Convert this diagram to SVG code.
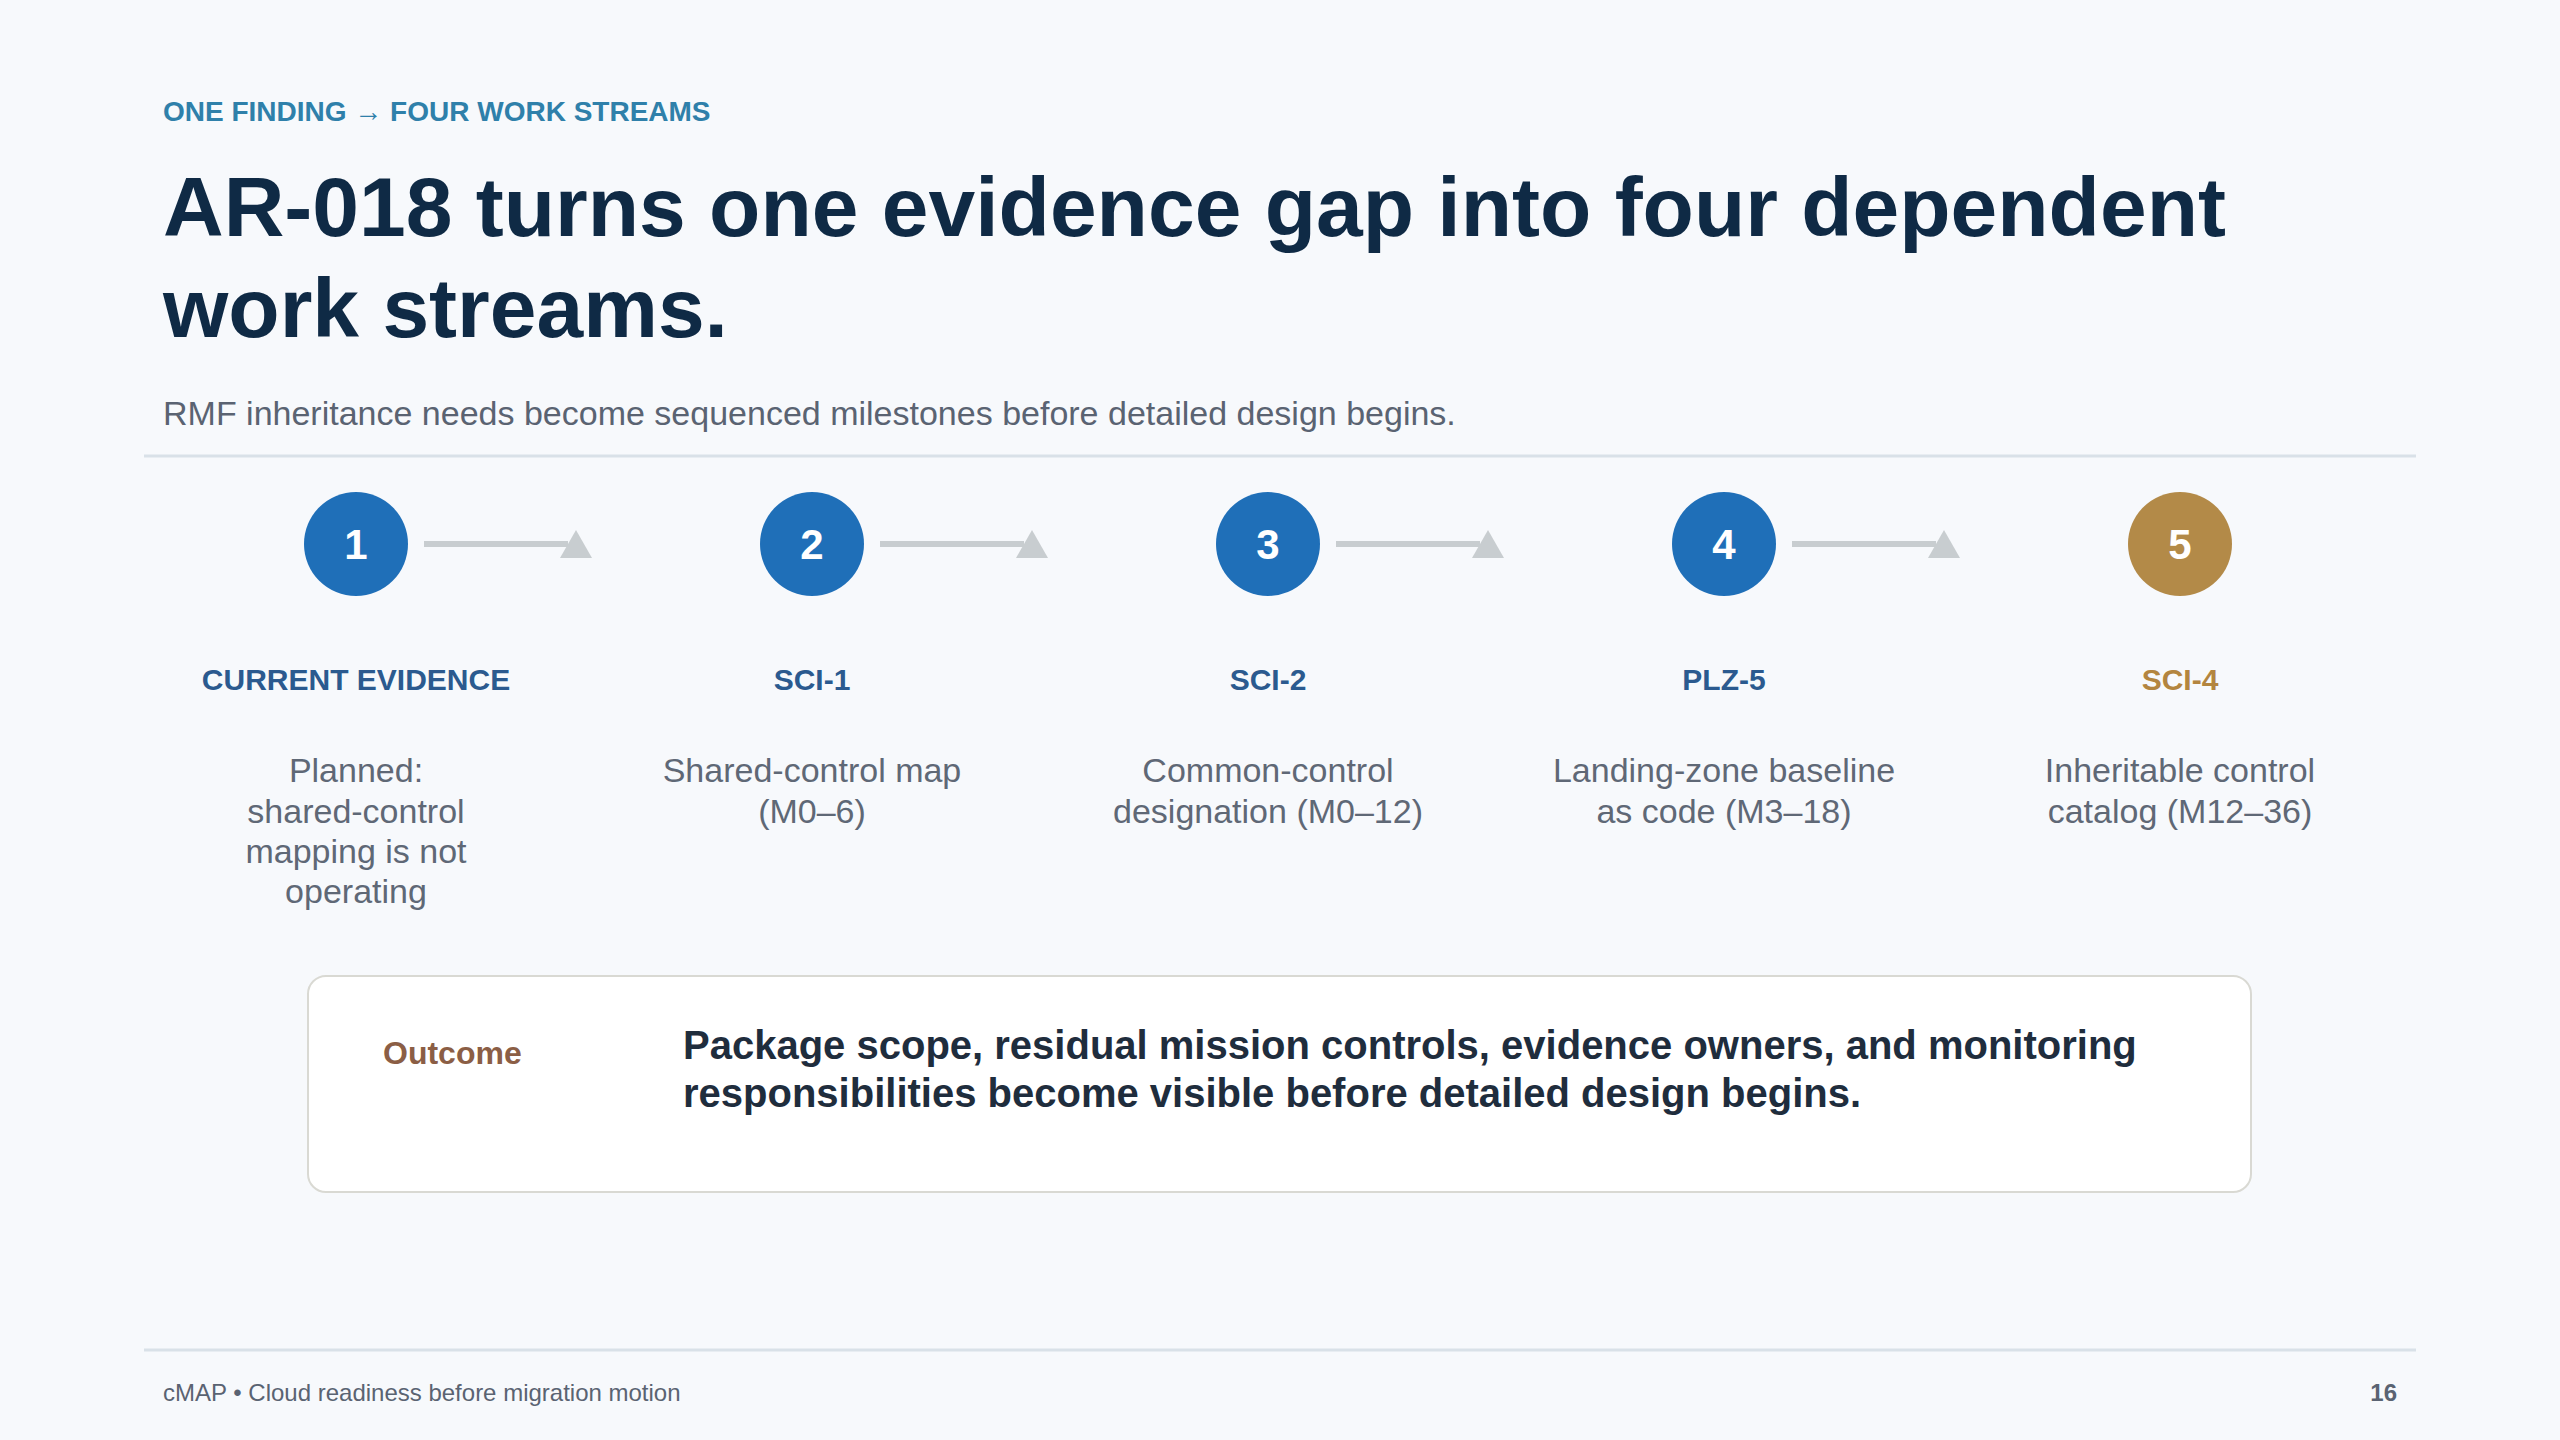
<svg xmlns="http://www.w3.org/2000/svg" width="2560" height="1440" viewBox="0 0 2560 1440">
<defs>
<style>
.sans{font-family:"Liberation Sans",Arial,Helvetica,sans-serif}
.eyebrow{font-size:28px;font-weight:700;fill:#2f80aa}
.title{font-size:84px;font-weight:700;fill:#0f2a45}
.sub{font-size:34px;fill:#5a6372}
.rule{stroke:#d9e1e8;stroke-width:3}
.num{font-size:42px;font-weight:700;fill:#ffffff;text-anchor:middle}
.lbl{font-size:30px;font-weight:700;fill:#2b5a8f;text-anchor:middle}
.lbl.gold{fill:#b3853f}
.desc{font-size:34px;fill:#5f6876;text-anchor:middle}
.blue{fill:#1f6fb8}
.goldc{fill:#b38a48}
.conn{stroke:#c8cdd0;stroke-width:6;fill:none}
.foot{font-size:24px;fill:#5a6372}
</style>
<marker id="tri" markerUnits="userSpaceOnUse" viewBox="0 0 32 28" markerWidth="32" markerHeight="28" refX="8" refY="14" orient="0">
<polygon points="0,28 16,0 32,28" fill="#c8cdd0"/>
</marker>
</defs>
<rect width="2560" height="1440" fill="#f7f9fc"/>
<g id="header" class="sans">
<text class="eyebrow" x="163" y="121">ONE FINDING → FOUR WORK STREAMS</text>
<text class="title" x="163" y="236">AR-018 turns one evidence gap into four dependent</text>
<text class="title" x="163" y="337">work streams.</text>
<text class="sub" x="163" y="425">RMF inheritance needs become sequenced milestones before detailed design begins.</text>
<line class="rule" x1="144" y1="456" x2="2416" y2="456"/>
</g>
<g id="connectors">
<line class="conn" x1="424" y1="544" x2="568" y2="544" marker-end="url(#tri)"/>
<line class="conn" x1="880" y1="544" x2="1024" y2="544" marker-end="url(#tri)"/>
<line class="conn" x1="1336" y1="544" x2="1480" y2="544" marker-end="url(#tri)"/>
<line class="conn" x1="1792" y1="544" x2="1936" y2="544" marker-end="url(#tri)"/>
</g>
<g id="node1" class="sans">
<circle class="blue" cx="356" cy="544" r="52"/>
<text class="num" x="356" y="559">1</text>
<text class="lbl" x="356" y="690">CURRENT EVIDENCE</text>
<text class="desc" x="356" y="782">Planned:</text>
<text class="desc" x="356" y="823">shared-control</text>
<text class="desc" x="356" y="863">mapping is not</text>
<text class="desc" x="356" y="903">operating</text>
</g>
<g id="node2" class="sans">
<circle class="blue" cx="812" cy="544" r="52"/>
<text class="num" x="812" y="559">2</text>
<text class="lbl" x="812" y="690">SCI-1</text>
<text class="desc" x="812" y="782">Shared-control map</text>
<text class="desc" x="812" y="823">(M0–6)</text>
</g>
<g id="node3" class="sans">
<circle class="blue" cx="1268" cy="544" r="52"/>
<text class="num" x="1268" y="559">3</text>
<text class="lbl" x="1268" y="690">SCI-2</text>
<text class="desc" x="1268" y="782">Common-control</text>
<text class="desc" x="1268" y="823">designation (M0–12)</text>
</g>
<g id="node4" class="sans">
<circle class="blue" cx="1724" cy="544" r="52"/>
<text class="num" x="1724" y="559">4</text>
<text class="lbl" x="1724" y="690">PLZ-5</text>
<text class="desc" x="1724" y="782">Landing-zone baseline</text>
<text class="desc" x="1724" y="823">as code (M3–18)</text>
</g>
<g id="node5" class="sans">
<circle class="goldc" cx="2180" cy="544" r="52"/>
<text class="num" x="2180" y="559">5</text>
<text class="lbl gold" x="2180" y="690">SCI-4</text>
<text class="desc" x="2180" y="782">Inheritable control</text>
<text class="desc" x="2180" y="823">catalog (M12–36)</text>
</g>
<g id="outcome" class="sans">
<rect x="308" y="976" width="1943" height="216" rx="18" fill="#ffffff" stroke="#d9d9d3" stroke-width="2"/>
<text x="383" y="1064" font-size="32" font-weight="700" fill="#8b5e45">Outcome</text>
<text x="683" y="1059" font-size="40" font-weight="700" fill="#1f2d3d">Package scope, residual mission controls, evidence owners, and monitoring</text>
<text x="683" y="1107" font-size="40" font-weight="700" fill="#1f2d3d">responsibilities become visible before detailed design begins.</text>
</g>
<g id="footer" class="sans">
<line class="rule" x1="144" y1="1350" x2="2416" y2="1350"/>
<text class="foot" x="163" y="1401">cMAP • Cloud readiness before migration motion</text>
<text class="foot" x="2397" y="1401" text-anchor="end" font-weight="700">16</text>
</g>
</svg>
